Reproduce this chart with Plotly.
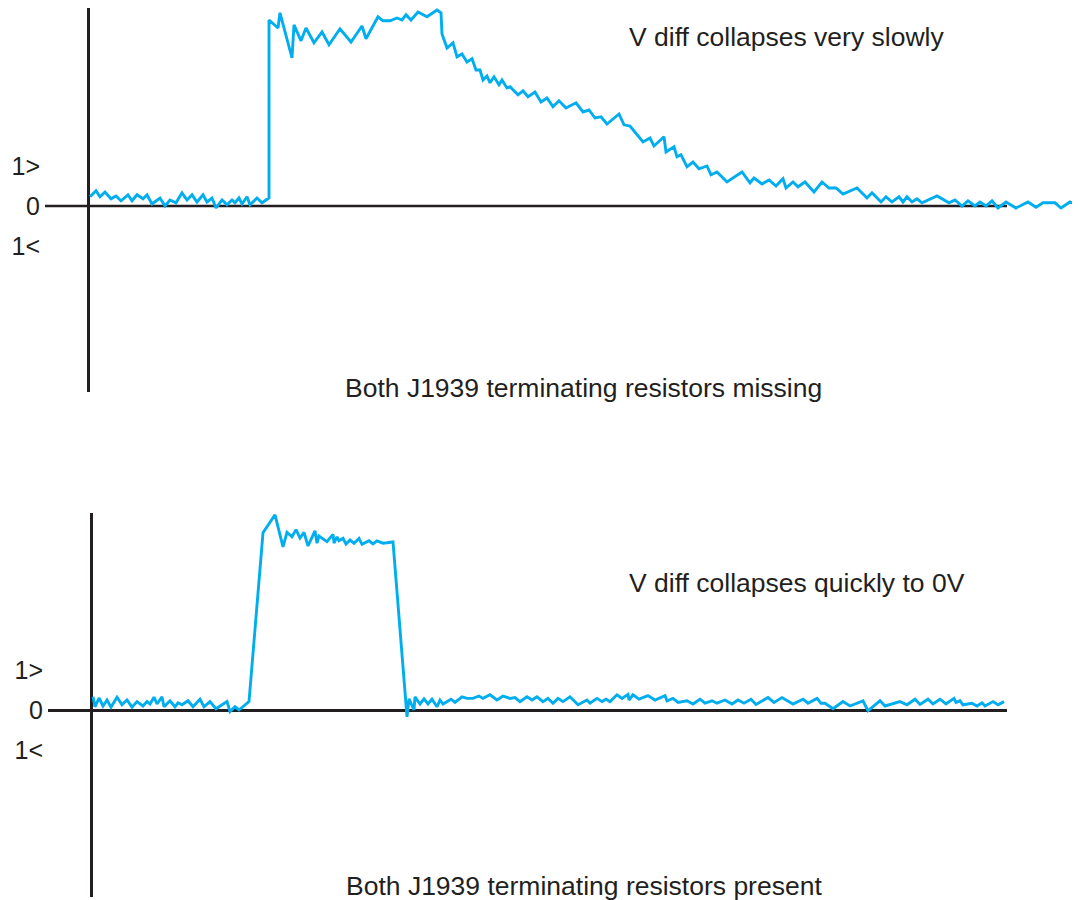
import plotly.graph_objects as go
from plotly.subplots import make_subplots

# Datos (x = tiempo en unidades arbitrarias, y = V diff)
# Panel superior: ambos resistores de terminacion ausentes
t_missing = [2, 8, 12, 17, 23, 28, 33, 40, 44, 49, 55, 59, 64, 72, 77, 82, 88, 94, 99, 104,
             109, 115, 119, 124, 128, 134, 139, 144, 147, 151, 154, 159, 162, 169, 174, 181, 181,
             190, 192, 204, 206, 213, 218, 226, 234, 241, 252, 263, 274, 278, 290, 295, 302, 309,
             314, 318, 323, 330, 339, 349, 353, 354, 359, 365, 369, 374, 379, 384, 388, 392, 395,
             399, 402, 406, 411, 414, 419, 422, 430, 435, 440, 447, 453, 459, 465, 471, 478, 488,
             495, 501, 507, 513, 519, 531, 536, 542, 555, 562, 566, 576, 578, 586, 589, 593, 599,
             605, 611, 619, 623, 629, 639, 654, 662, 666, 674, 681, 688, 695, 698, 705, 710, 717,
             726, 734, 741, 748, 755, 769, 779, 784, 793, 798, 804, 811, 815, 819, 824, 829, 834,
             849, 861, 867, 874, 880, 887, 892, 898, 904, 910, 918, 928, 940, 948, 955, 967, 973,
             982, 992]
v_missing = [0.23, 0.38, 0.23, 0.35, 0.18, 0.25, 0.13, 0.28, 0.13, 0.28, 0.18, 0.28, 0.05, 0.20,
             0.0, 0.15, 0.08, 0.33, 0.15, 0.28, 0.10, 0.28, 0.10, 0.20, -0.05, 0.15, 0.03, 0.15,
             0.08, 0.20, 0.05, 0.23, 0.03, 0.20, 0.08, 0.20, 4.65, 4.45, 4.83, 3.70, 4.53, 4.13,
             4.45, 4.08, 4.35, 4.03, 4.43, 4.10, 4.50, 4.18, 4.73, 4.63, 4.63, 4.70, 4.65, 4.78,
             4.65, 4.85, 4.73, 4.90, 4.83, 4.30, 3.95, 4.08, 3.73, 3.80, 3.60, 3.68, 3.40, 3.40,
             3.15, 3.25, 3.08, 3.23, 3.03, 3.15, 2.95, 2.98, 2.78, 2.88, 2.73, 2.85, 2.60, 2.70,
             2.48, 2.63, 2.45, 2.58, 2.35, 2.40, 2.20, 2.23, 2.05, 2.30, 2.03, 2.00, 1.60, 1.70,
             1.50, 1.73, 1.35, 1.48, 1.23, 1.28, 0.98, 1.10, 0.93, 1.00, 0.78, 0.85, 0.60, 0.85,
             0.58, 0.70, 0.55, 0.65, 0.50, 0.68, 0.45, 0.60, 0.48, 0.60, 0.35, 0.60, 0.45, 0.45,
             0.30, 0.45, 0.20, 0.33, 0.10, 0.23, 0.10, 0.23, 0.10, 0.23, 0.10, 0.18, 0.08, 0.25,
             0.08, 0.15, 0.0, 0.13, 0.0, 0.10, 0.0, 0.13, -0.05, 0.10, -0.05, 0.10, -0.03, 0.08,
             0.08, -0.05, 0.10, 0.0]

# Panel inferior: ambos resistores de terminacion presentes
t_present = [2, 4, 8, 12, 16, 20, 26, 31, 36, 41, 46, 52, 56, 59, 63, 66, 71, 73, 79, 84, 87,
             91, 97, 102, 109, 113, 119, 125, 136, 139, 144, 148, 158, 172, 184, 192, 196, 201,
             205, 209, 213, 217, 224, 226, 228, 236, 242, 243, 246, 248, 252, 255, 259, 263, 268,
             271, 278, 282, 286, 292, 296, 302, 316, 318, 323, 324, 329, 333, 337, 341, 346, 349,
             352, 360, 364, 371, 376, 382, 388, 392, 399, 406, 412, 419, 424, 429, 436, 441, 446,
             452, 457, 462, 467, 472, 479, 487, 496, 499, 506, 511, 515, 519, 526, 531, 537, 538,
             542, 548, 557, 564, 574, 576, 582, 587, 596, 602, 609, 614, 621, 626, 634, 641, 647,
             653, 660, 665, 677, 683, 691, 702, 712, 717, 726, 730, 734, 742, 752, 759, 772, 777,
             789, 794, 809, 816, 824, 829, 837, 842, 849, 855, 863, 865, 869, 872, 881, 886, 891,
             894, 902, 907, 913]
v_present = [0.33, 0.08, 0.30, 0.10, 0.25, 0.07, 0.32, 0.13, 0.25, 0.07, 0.21, 0.10, 0.21, 0.15,
             0.32, 0.15, 0.33, 0.08, 0.23, 0.08, 0.18, 0.13, 0.23, 0.08, 0.27, 0.08, 0.21, 0.03,
             0.21, -0.04, 0.08, 0.0, 0.21, 4.43, 4.88, 4.08, 4.44, 4.33, 4.51, 4.30, 4.44, 4.10,
             4.48, 4.17, 4.35, 4.21, 4.39, 4.17, 4.33, 4.23, 4.29, 4.15, 4.25, 4.17, 4.29, 4.14,
             4.23, 4.15, 4.23, 4.17, 4.18, 4.20, -0.17, 0.28, 0.0, 0.33, 0.15, 0.28, 0.15, 0.27,
             0.08, 0.25, 0.15, 0.27, 0.19, 0.33, 0.29, 0.29, 0.35, 0.29, 0.38, 0.25, 0.35, 0.29,
             0.31, 0.21, 0.33, 0.25, 0.33, 0.21, 0.29, 0.17, 0.29, 0.21, 0.33, 0.13, 0.25, 0.17,
             0.29, 0.21, 0.27, 0.21, 0.38, 0.29, 0.39, 0.25, 0.38, 0.27, 0.36, 0.25, 0.36, 0.23,
             0.29, 0.19, 0.23, 0.15, 0.27, 0.17, 0.23, 0.17, 0.25, 0.15, 0.25, 0.17, 0.27, 0.14,
             0.31, 0.19, 0.31, 0.15, 0.27, 0.17, 0.29, 0.17, 0.17, 0.03, 0.21, 0.10, 0.23, -0.02,
             0.23, 0.10, 0.21, 0.13, 0.27, 0.14, 0.27, 0.15, 0.27, 0.15, 0.29, 0.19, 0.23, 0.13,
             0.17, 0.10, 0.18, 0.10, 0.21, 0.13, 0.21]

level_ticks = [1, 0, -1]
level_labels = ["1>", "0", "1<"]

notes = ["V diff collapses very slowly", "V diff collapses quickly to 0V"]
captions = ["Both J1939 terminating resistors missing", "Both J1939 terminating resistors present"]

# ESTILO
CYAN = "#00AEEF"
INK = "#231F20"
FONT = "Liberation Sans, Arial, Helvetica, sans-serif"

# La pagina tiene 8 px de margen en el body: la figura ocupa el resto de la ventana
PAGE_OFF = 8
W, H = 1080 - PAGE_OFF, 900 - PAGE_OFF


def fx(px):
    # posicion horizontal de la ventana -> coordenada paper
    return (px - PAGE_OFF) / W


def fy(py):
    # posicion vertical de la ventana -> coordenada paper
    return 1 - (py - PAGE_OFF) / H


fig = make_subplots(rows=2, cols=1)

fig.add_trace(go.Scatter(x=t_missing, y=v_missing, mode="lines",
                         line=dict(color=CYAN, width=2.9), showlegend=False), row=1, col=1)
fig.add_trace(go.Scatter(x=t_present, y=v_present, mode="lines",
                         line=dict(color=CYAN, width=2.9), showlegend=False), row=2, col=1)

axis_common = dict(showgrid=False, showline=False, ticks="", fixedrange=True)

# Ejes: la linea vertical es el zeroline del eje x
fig.update_xaxes(**axis_common, showticklabels=False, zeroline=True,
                 zerolinecolor=INK, zerolinewidth=2.7)
fig.update_yaxes(**axis_common, tickvals=level_ticks, ticktext=level_labels,
                 tickfont=dict(family=FONT, size=25, color=INK), ticklabelstandoff=4,
                 zerolinecolor=INK, zerolinewidth=2.7)

fig.update_layout(
    xaxis=dict(domain=[fx(45), 1.0], range=[-43, 992]),
    yaxis=dict(domain=[fy(392), fy(8)], range=[-4.65, 4.95], zeroline=False),
    xaxis2=dict(domain=[fx(48), fx(1007)], range=[-43, 916]),
    yaxis2=dict(domain=[fy(897), fy(513)], range=[-4.675, 4.925], zeroline=True),
)

# Linea base del panel superior (termina antes que la traza)
fig.add_shape(type="line", xref="x", yref="y", x0=-43, x1=919, y0=0, y1=0,
              line=dict(color=INK, width=2.7), layer="below")

txt = dict(family=FONT, size=26.5, color=INK)
fig.add_annotation(text=notes[0], xref="paper", yref="paper", x=fx(627), y=fy(37),
                   xanchor="left", yanchor="middle", showarrow=False, font=txt)
fig.add_annotation(text=captions[0], xref="paper", yref="paper", x=fx(583.5), y=fy(388),
                   xanchor="center", yanchor="middle", showarrow=False, font=txt)
fig.add_annotation(text=notes[1], xref="paper", yref="paper", x=fx(627), y=fy(583),
                   xanchor="left", yanchor="middle", showarrow=False, font=txt)
fig.add_annotation(text=captions[1], xref="paper", yref="paper", x=fx(583.5), y=fy(886),
                   xanchor="center", yanchor="middle", showarrow=False, font=txt)

fig.update_layout(
    width=W, height=H,
    margin=dict(l=0, r=0, t=0, b=0),
    paper_bgcolor="white",
    plot_bgcolor="white",
    font=dict(family=FONT, color=INK),
)

fig.write_html("out.html")
